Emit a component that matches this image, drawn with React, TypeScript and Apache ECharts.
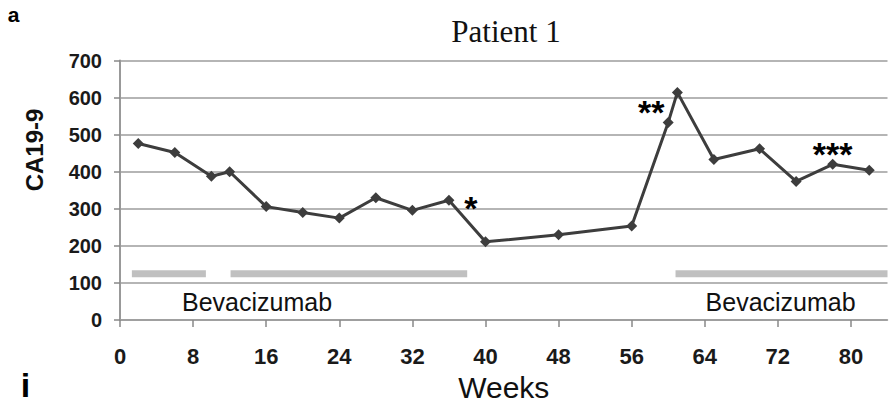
import React, { useEffect, useRef } from "react";
import * as echarts from "echarts";

// ---- data ----
const weeks = [2, 6, 10, 12, 16, 20, 24, 28, 32, 36, 40, 48, 56, 60, 61, 65, 70, 74, 78, 82];
const ca199 = [476, 452, 388, 400, 306, 290, 275, 330, 296, 323, 211, 230, 254, 533, 614, 433, 462, 374, 420, 404];
const xTicks = [0, 8, 16, 24, 32, 40, 48, 56, 64, 72, 80];
const yTicks = [0, 100, 200, 300, 400, 500, 600, 700];
// bevacizumab treatment periods: [start week, end week]
const bevStart = [1.3, 12.1, 60.8];
const bevEnd = [9.4, 38.0, 84];
const bevLevel = 125;
const bevLabelWeeks = [15, 72.3];
const bevLabelLevel = 50;
const bevLabel = "Bevacizumab";
// significance annotations
const starWeeks = [36, 60, 78];
const starTexts = ["*", "**", "***"];

export default function App() {
  const ref = useRef<HTMLDivElement>(null);
  useEffect(() => {
    if (!ref.current) return;
    const chart = echarts.init(ref.current, null, { renderer: "svg" });
    const FONT = "'Liberation Sans', Arial, sans-serif";
    const starOffsets: number[][] = [[22, 8], [-17, -10], [0, -10]];
    const lineData = weeks.map((w, i) => {
      const k = starWeeks.indexOf(w);
      const item: any = { value: [w, ca199[i]] };
      if (k >= 0) {
        item.label = {
          show: true,
          formatter: starTexts[k],
          position: "inside",
          offset: starOffsets[k],
          fontSize: 34,
          fontWeight: "bold",
          fontFamily: FONT,
          color: "#000",
        };
      }
      return item;
    });
    const bevData = bevStart.map((s, i) => [s, bevEnd[i], bevLevel]);
    chart.setOption({
      animation: false,
      backgroundColor: "#ffffff",
      grid: { left: 120, right: 3.5, top: 60.5, bottom: 85.5, containLabel: false },
      xAxis: {
        type: "value",
        min: 0,
        max: 84,
        name: "Weeks",
        nameLocation: "middle",
        nameGap: 51,
        nameTextStyle: { fontSize: 30, fontFamily: FONT, color: "#111" },
        axisLine: { show: true, lineStyle: { color: "#999", width: 1.5 } },
        axisTick: { show: true, length: 7, customValues: xTicks, lineStyle: { color: "#888", width: 1.5 } },
        axisLabel: {
          customValues: xTicks,
          margin: 25,
          fontSize: 22,
          fontWeight: "bold",
          fontFamily: FONT,
          color: "#1a1a1a",
        },
        splitLine: { show: false },
      },
      yAxis: {
        type: "value",
        min: 0,
        max: 700,
        interval: 100,
        axisLine: { show: true, lineStyle: { color: "#999", width: 2 } },
        axisTick: { show: true, length: 6, lineStyle: { color: "#888", width: 1.5 } },
        axisLabel: {
          margin: 18,
          fontSize: 20,
          fontWeight: "bold",
          fontFamily: FONT,
          color: "#1a1a1a",
          formatter: (v: number) => (yTicks.indexOf(v) >= 0 ? String(v) : ""),
        },
        splitLine: { show: true, lineStyle: { color: "#9d9d9d", width: 1.5 } },
      },
      graphic: [
        {
          type: "text",
          x: 506,
          y: 31.5,
          style: {
            text: "Patient 1",
            font: "31px 'Liberation Serif', 'Times New Roman', serif",
            fill: "#111",
            align: "center",
            verticalAlign: "middle",
          },
        },
        {
          type: "text",
          x: 34,
          y: 150,
          rotation: Math.PI / 2,
          style: {
            text: "CA19-9",
            font: "bold 24px 'Liberation Sans', Arial, sans-serif",
            fill: "#111",
            align: "center",
            verticalAlign: "middle",
          },
        },
        {
          type: "text",
          x: 13.5,
          y: 14,
          style: {
            text: "a",
            font: "bold 21px 'Liberation Sans', Arial, sans-serif",
            fill: "#000",
            align: "center",
            verticalAlign: "middle",
          },
        },
        {
          type: "text",
          x: 25.5,
          y: 384.5,
          style: {
            text: "i",
            font: "bold 34px 'Liberation Sans', Arial, sans-serif",
            fill: "#000",
            align: "center",
            verticalAlign: "middle",
          },
        },
      ],
      series: [
        {
          type: "custom",
          z: 1,
          data: bevData,
          encode: { x: [0, 1], y: 2 },
          renderItem: (params: any, api: any) => {
            const s = api.coord([api.value(0), api.value(2)]);
            const e = api.coord([api.value(1), api.value(2)]);
            return {
              type: "rect",
              shape: { x: s[0], y: s[1] - 3.5, width: e[0] - s[0], height: 7 },
              style: { fill: "#c0c0c0" },
            };
          },
        },
        {
          type: "custom",
          z: 2,
          data: bevLabelWeeks.map((w) => [w, bevLabelLevel]),
          encode: { x: 0, y: 1 },
          renderItem: (params: any, api: any) => {
            const p = api.coord([api.value(0), api.value(1)]);
            return {
              type: "text",
              x: p[0],
              y: p[1],
              style: {
                text: bevLabel,
                font: "25px 'Liberation Sans', Arial, sans-serif",
                fill: "#111",
                align: "center",
                verticalAlign: "middle",
              },
            };
          },
        },
        {
          type: "line",
          z: 3,
          data: lineData,
          symbol: "diamond",
          symbolSize: 11,
          lineStyle: { color: "#3d3d3d", width: 3 },
          itemStyle: { color: "#3d3d3d" },
        },
      ],
    });
    return () => chart.dispose();
  }, []);
  return (
    <div
      ref={ref}
      style={{ position: "absolute", left: 0, top: 0, width: 891, height: 407, background: "#fff" }}
    />
  );
}
